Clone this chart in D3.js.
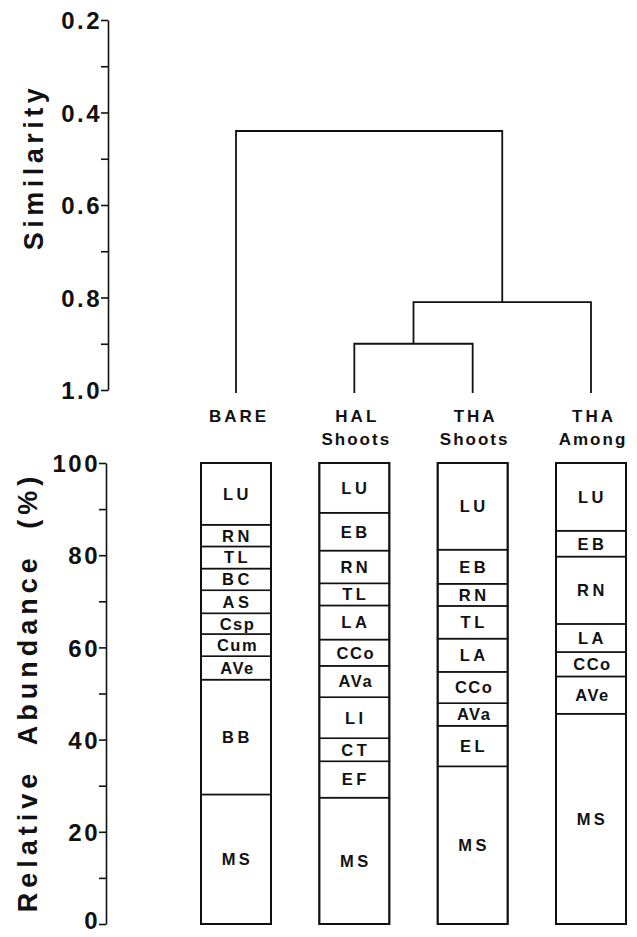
<!DOCTYPE html>
<html>
<head>
<meta charset="utf-8">
<script src="https://cdn.jsdelivr.net/npm/d3@7"></script>
<style>
  html, body { margin: 0; padding: 0; background: #fff; }
  svg { display: block; }
  text { font-family: "Liberation Sans", Arial, Helvetica, sans-serif; fill: #111; }
</style>
</head>
<body>
<svg id="chart" width="637" height="937"></svg>
<script>
// ---------------- DATA ----------------
const groups = ["BARE", "HAL Shoots", "THA Shoots", "THA Among"];
const groupLabelLine1 = ["BARE", "HAL", "THA", "THA"];
const groupLabelLine2 = ["", "Shoots", "Shoots", "Among"];

// taxa stacked bottom -> top, relative abundance (%)
const bareTaxa   = ["MS", "BB", "AVe", "Cum", "Csp", "AS", "BC", "TL", "RN", "LU"];
const bareValues = [28.1, 24.9, 5.1, 4.8, 4.5, 5.0, 4.7, 4.8, 4.7, 13.4];

const halTaxa    = ["MS", "EF", "CT", "LI", "AVa", "CCo", "LA", "TL", "RN", "EB", "LU"];
const halValues  = [27.4, 7.9, 5.0, 8.9, 6.8, 5.7, 7.4, 4.8, 7.1, 8.2, 10.8];

const thaShootTaxa   = ["MS", "EL", "AVa", "CCo", "LA", "TL", "RN", "EB", "LU"];
const thaShootValues = [34.2, 8.8, 4.9, 6.8, 7.2, 7.1, 4.8, 7.4, 18.8];

const thaAmongTaxa   = ["MS", "AVe", "CCo", "LA", "RN", "EB", "LU"];
const thaAmongValues = [45.6, 8.1, 5.3, 6.1, 14.6, 5.6, 14.7];

// dendrogram merges (similarity level)
const mergeLeft   = ["HAL Shoots", "m0", "BARE"];
const mergeRight  = ["THA Shoots", "THA Among", "m1"];
const mergeHeight = [0.90, 0.81, 0.44];
const leafHeight  = 1.0;

// axis ticks
const simTickValues = [0.2, 0.3, 0.4, 0.5, 0.6, 0.7, 0.8, 0.9, 1.0];
const simTickLabels = ["0.2", "", "0.4", "", "0.6", "", "0.8", "", "1.0"];
const abTickValues  = [0, 10, 20, 30, 40, 50, 60, 70, 80, 90, 100];
const abTickLabels  = ["0", "", "20", "", "40", "", "60", "", "80", "", "100"];

// ---------------- DRAW ----------------
const svg = d3.select("#chart");

const x = d3.scalePoint().domain(groups).range([236, 591]);
const barW = 70;

const ySim = d3.scaleLinear().domain([0.2, 1.0]).range([20, 390]);
const yAb  = d3.scaleLinear().domain([0, 100]).range([924, 463]);

// Similarity axis
const simAxis = d3.axisLeft(ySim)
  .tickValues(simTickValues)
  .tickSize(7).tickSizeOuter(0)
  .tickFormat((d, i) => simTickLabels[i]);
const gSim = svg.append("g").attr("transform", "translate(108,0)").call(simAxis);

// Abundance axis
const abAxis = d3.axisLeft(yAb)
  .tickValues(abTickValues)
  .tickSize(7).tickSizeOuter(0)
  .tickFormat((d, i) => abTickLabels[i]);
const gAb = svg.append("g").attr("transform", "translate(106,0)").call(abAxis);

[gSim, gAb].forEach(g => {
  g.attr("font-size", null).attr("font-family", null);
  g.select(".domain").attr("stroke", "#111").attr("stroke-width", 1.6);
  g.selectAll(".tick line").attr("stroke", "#111").attr("stroke-width", 1.6);
  g.selectAll(".tick text")
    .attr("font-size", 24).attr("font-weight", "bold")
    .attr("letter-spacing", 2.5)
    .attr("x", -6).attr("dy", "0.36em")
    .attr("fill", "#111");
});
// keep the bottom "0" label inside the page
gAb.selectAll(".tick text").filter(d => d === 0).attr("dy", "0.2em");

// Axis titles
svg.append("text")
  .attr("transform", `translate(43,${167}) rotate(-90)`)
  .attr("text-anchor", "middle")
  .attr("font-size", 27).attr("font-weight", "bold")
  .attr("letter-spacing", 4.5)
  .text("Similarity");

svg.append("text")
  .attr("transform", `translate(37,${692}) rotate(-90)`)
  .attr("text-anchor", "middle")
  .attr("font-size", 27).attr("font-weight", "bold")
  .attr("letter-spacing", 5)
  .attr("word-spacing", 12)
  .text("Relative Abundance (%)");

// Dendrogram
const nodePos = {};
groups.forEach(g => nodePos[g] = { x: x(g), h: leafHeight });
const dendro = svg.append("g")
  .attr("fill", "none").attr("stroke", "#111").attr("stroke-width", 1.8);
mergeLeft.forEach((l, i) => {
  const a = nodePos[l], b = nodePos[mergeRight[i]], h = mergeHeight[i];
  const path = d3.path();
  path.moveTo(a.x, ySim(a.h) + (a.h === leafHeight ? 3 : 0));
  path.lineTo(a.x, ySim(h));
  path.lineTo(b.x, ySim(h));
  path.lineTo(b.x, ySim(b.h) + (b.h === leafHeight ? 3 : 0));
  dendro.append("path").attr("d", path.toString());
  nodePos["m" + i] = { x: (a.x + b.x) / 2, h: h };
});

// Group labels
const lbl = svg.append("g")
  .attr("font-size", 17).attr("font-weight", "bold")
  .attr("text-anchor", "middle");
groups.forEach((g, i) => {
  lbl.append("text").attr("x", x(g) + 3).attr("y", 422)
    .attr("letter-spacing", 3).text(groupLabelLine1[i]);
  if (groupLabelLine2[i]) {
    lbl.append("text").attr("x", x(g) + 2).attr("y", 445)
      .attr("letter-spacing", 2).text(groupLabelLine2[i]);
  }
});

// Stacked bars
const stackTaxa   = [bareTaxa, halTaxa, thaShootTaxa, thaAmongTaxa];
const stackValues = [bareValues, halValues, thaShootValues, thaAmongValues];

groups.forEach((g, gi) => {
  const cx = x(g);
  const taxa = stackTaxa[gi], vals = stackValues[gi];
  const cum = d3.cumsum(vals);
  const gb = svg.append("g");
  taxa.forEach((t, ti) => {
    const lo = ti === 0 ? 0 : cum[ti - 1];
    const hi = ti === taxa.length - 1 ? 100 : cum[ti];
    gb.append("rect")
      .attr("x", cx - barW / 2).attr("width", barW)
      .attr("y", yAb(hi)).attr("height", yAb(lo) - yAb(hi))
      .attr("fill", "#fff").attr("stroke", "#111").attr("stroke-width", 1.6);
    gb.append("text")
      .attr("x", cx + 1.5).attr("y", yAb((lo + hi) / 2))
      .attr("dy", "0.36em")
      .attr("text-anchor", "middle")
      .attr("font-size", 16.5).attr("font-weight", "bold")
      .attr("letter-spacing", t.length > 2 ? 1.5 : 3.5)
      .text(t);
  });
  gb.append("rect")
    .attr("x", cx - barW / 2).attr("width", barW)
    .attr("y", yAb(100)).attr("height", yAb(0) - yAb(100))
    .attr("fill", "none").attr("stroke", "#111").attr("stroke-width", 2);
});
</script>
</body>
</html>
